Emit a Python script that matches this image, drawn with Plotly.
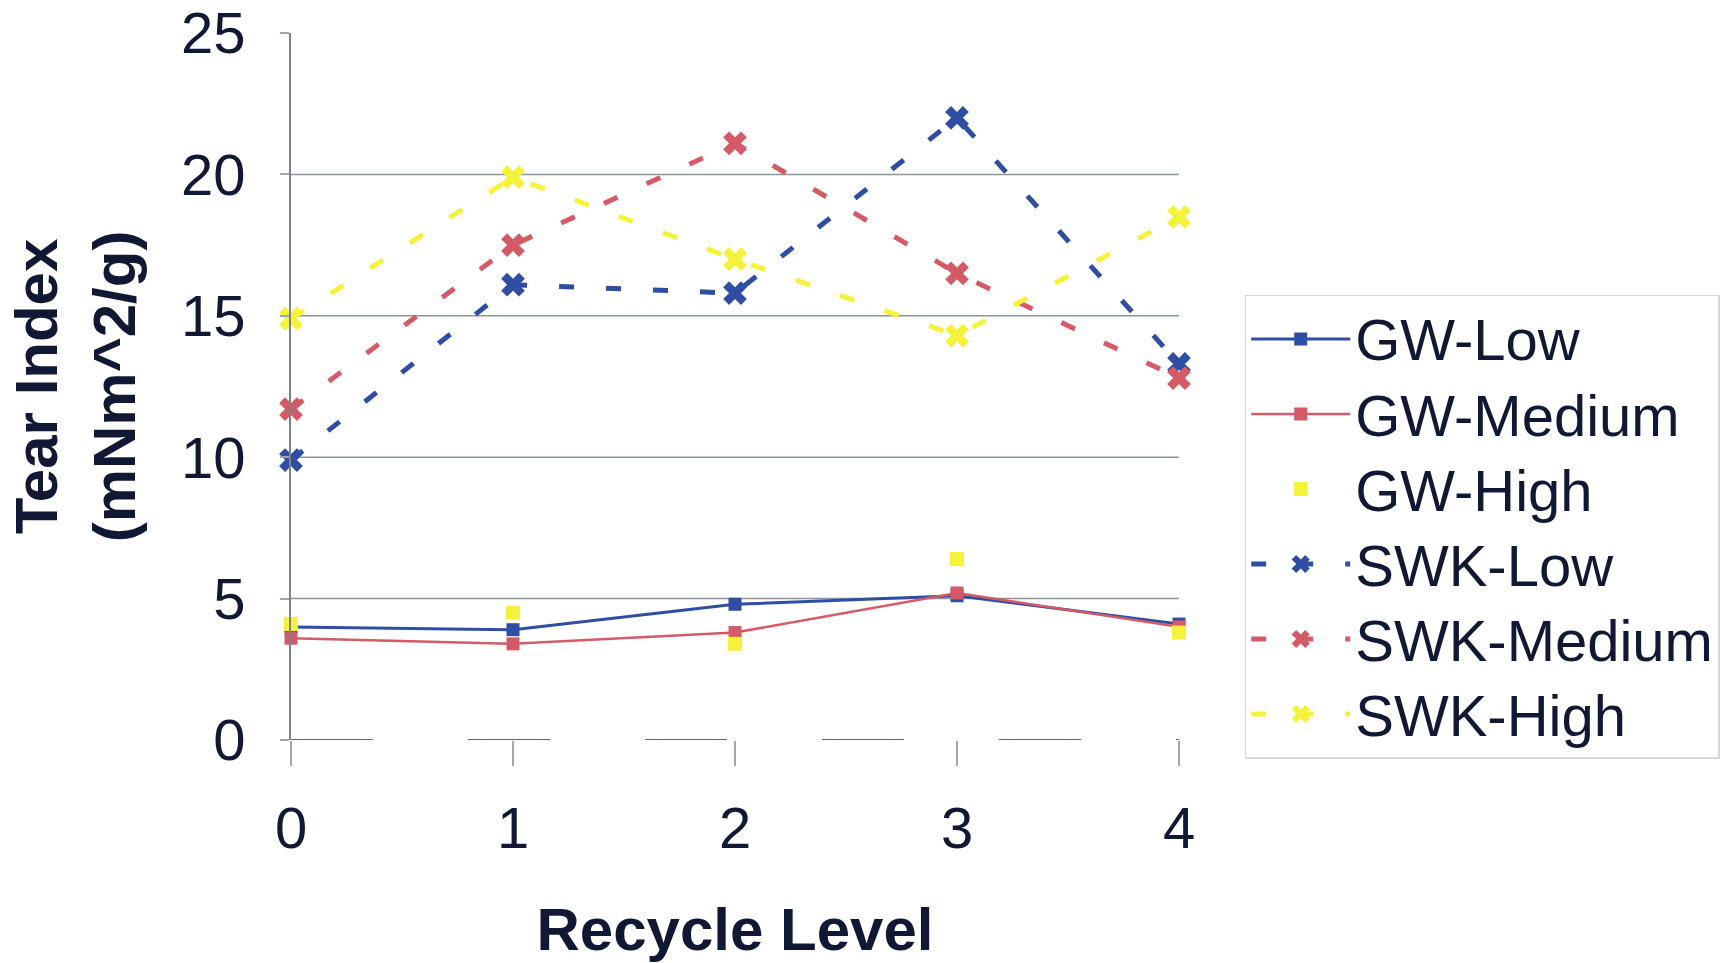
import plotly.graph_objects as go

# Recycle levels on the x axis
recycle_level = [0, 1, 2, 3, 4]

# Tear index (mNm^2/g) per series
gw_low = [4.0, 3.9, 4.8, 5.1, 4.1]
gw_medium = [3.6, 3.4, 3.8, 5.2, 4.0]
gw_high = [4.1, 4.5, 3.4, 6.4, 3.8]
swk_low = [9.9, 16.1, 15.8, 22.0, 13.3]
swk_medium = [11.7, 17.5, 21.1, 16.5, 12.8]
swk_high = [14.9, 19.9, 17.0, 14.3, 18.5]

y_ticks = [0, 5, 10, 15, 20, 25]
x_ticks = [0, 1, 2, 3, 4]
grid_levels = [5, 10, 15, 20]

BLUE = "#2f4ea3"
RED = "#d45a68"
YELLOW = "#f4f23a"
TEXT = "#101833"
GRID = "#8d959c"
FONT = "Liberation Sans, Arial, sans-serif"


def legend_label(text):
    # rendered at 58px while rows are spaced for a slightly smaller font
    return f'<span style="font-size:58px">{text}</span>'


fig = go.Figure()

fig.add_trace(go.Scatter(
    x=recycle_level, y=gw_low, name=legend_label("GW-Low"), mode="lines+markers",
    line=dict(color=BLUE, width=3),
    marker=dict(symbol="square", size=13, color=BLUE), cliponaxis=False))
fig.add_trace(go.Scatter(
    x=recycle_level, y=gw_medium, name=legend_label("GW-Medium"), mode="lines+markers",
    line=dict(color=RED, width=2.5),
    marker=dict(symbol="square", size=13, color=RED), cliponaxis=False))
fig.add_trace(go.Scatter(
    x=recycle_level, y=gw_high, name=legend_label("GW-High"), mode="markers",
    marker=dict(symbol="square", size=14, color=YELLOW), cliponaxis=False))

dash = "15px,32px"
fig.add_trace(go.Scatter(
    x=recycle_level, y=swk_low, name=legend_label("SWK-Low"), mode="lines+markers",
    line=dict(color=BLUE, width=5, dash=dash),
    marker=dict(symbol="x", size=21, color=BLUE), cliponaxis=False))
fig.add_trace(go.Scatter(
    x=recycle_level, y=swk_medium, name=legend_label("SWK-Medium"), mode="lines+markers",
    line=dict(color=RED, width=5, dash=dash),
    marker=dict(symbol="x", size=21, color=RED), cliponaxis=False))
fig.add_trace(go.Scatter(
    x=recycle_level, y=swk_high, name=legend_label("SWK-High"), mode="lines+markers",
    line=dict(color=YELLOW, width=5, dash=dash),
    marker=dict(symbol="x", size=21, color=YELLOW), cliponaxis=False))

# horizontal grid lines and a broken baseline at zero
for g in grid_levels:
    fig.add_hline(y=g, line=dict(color=GRID, width=1.5), layer="below")
fig.add_hline(y=0, line=dict(color="#5d6870", width=2, dash="82px,95px"), layer="below")

fig.update_layout(
    width=1736, height=963,
    margin=dict(l=291, r=557, t=33, b=223, autoexpand=False),
    paper_bgcolor="white", plot_bgcolor="white",
    font=dict(family=FONT, color=TEXT, size=58),
    showlegend=True,
    legend=dict(
        x=1.074, y=0.6296, xanchor="left", yanchor="top",
        bordercolor="#d3d7db", borderwidth=1.5, bgcolor="white",
        font=dict(size=55.4, family=FONT, color=TEXT),
        itemwidth=99, tracegroupgap=0,
    ),
)

fig.update_xaxes(
    range=[0, 4], tickvals=x_ticks, ticktext=[str(v) for v in x_ticks],
    showgrid=False, zeroline=False, showline=False, automargin=False,
    ticks="outside", ticklen=25, tickwidth=1.5, tickcolor="#a0a6ab",
    ticklabelstandoff=12,
    tickfont=dict(size=58, family=FONT, color=TEXT),
    title=dict(text="<b>Recycle Level</b>", font=dict(size=60, family=FONT, color=TEXT),
               standoff=52),
)
fig.update_yaxes(
    range=[0, 25], tickvals=y_ticks, ticktext=[str(v) for v in y_ticks],
    showgrid=False, zeroline=False, automargin=False,
    showline=True, linecolor="#7b848c", linewidth=2,
    ticks="outside", ticklen=9, tickwidth=1.5, tickcolor="#a0a6ab",
    ticklabelstandoff=23,
    tickfont=dict(size=58, family=FONT, color=TEXT),
    title=dict(text="<b>Tear Index<br>(mNm^2/g)</b>",
               font=dict(size=60, family=FONT, color=TEXT), standoff=26),
)

fig.write_html("out.html")
